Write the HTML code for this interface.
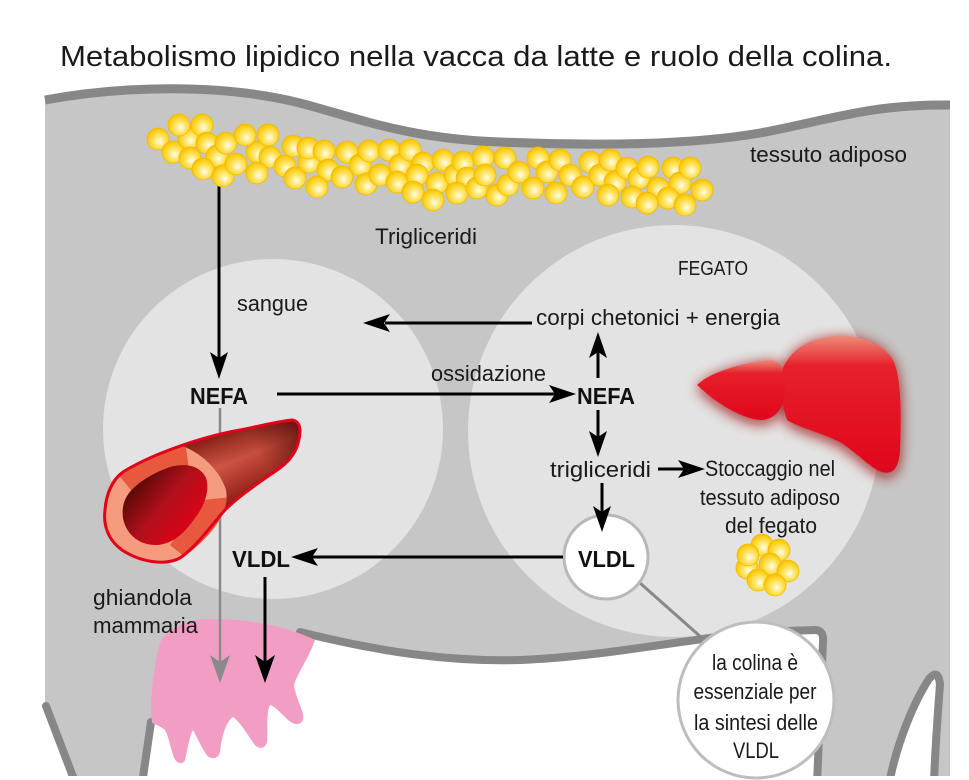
<!DOCTYPE html>
<html><head><meta charset="utf-8"><style>
html,body{margin:0;padding:0;background:#fff;}
svg{display:block;}
text{font-family:"Liberation Sans",sans-serif;fill:#1a1a1a;}
.b{font-weight:bold;fill:#111;}
</style></head><body>
<svg width="969" height="780" viewBox="0 0 969 780" xmlns="http://www.w3.org/2000/svg">
<defs>
<radialGradient id="gl" cx="0.55" cy="0.58" r="0.6" fx="0.58" fy="0.62">
<stop offset="0" stop-color="#fffdf2"/><stop offset="0.3" stop-color="#ffec8a"/><stop offset="0.75" stop-color="#ffd21e"/><stop offset="1" stop-color="#f4bd00"/>
</radialGradient>
<linearGradient id="vb" gradientUnits="userSpaceOnUse" x1="245" y1="418" x2="275" y2="492">
<stop offset="0" stop-color="#7e1a12"/><stop offset="0.45" stop-color="#d65a48"/><stop offset="1" stop-color="#8a1410"/>
</linearGradient>
<linearGradient id="vend" gradientUnits="userSpaceOnUse" x1="200" y1="490" x2="300" y2="430">
<stop offset="0" stop-color="#5a0a05" stop-opacity="0"/><stop offset="0.6" stop-color="#5a0a05" stop-opacity="0.15"/><stop offset="1" stop-color="#4a0804" stop-opacity="0.75"/>
</linearGradient>
<linearGradient id="lum" gradientUnits="userSpaceOnUse" x1="132" y1="478" x2="195" y2="530">
<stop offset="0" stop-color="#4a0804"/><stop offset="0.5" stop-color="#b0101a"/><stop offset="1" stop-color="#e30018"/>
</linearGradient>
<linearGradient id="lv" x1="0" y1="0" x2="0" y2="1">
<stop offset="0" stop-color="#f08a78"/><stop offset="0.22" stop-color="#e6202a"/><stop offset="1" stop-color="#e0061b"/>
</linearGradient>
<filter id="blur" x="-30%" y="-30%" width="160%" height="160%"><feGaussianBlur stdDeviation="7"/></filter>
<clipPath id="ringclip"><path d="M182,446 C200,452 220,470 226,490 C230,510 215,532 190,552 C175,560 160,565 145,562 C130,558 112,548 106,530 C102,515 104,495 110,484 C115,475 125,468 140,462 C155,455 170,449 182,446 Z"/></clipPath>
</defs>

<!-- title -->
<text x="60" y="66" font-size="29" textLength="832" lengthAdjust="spacingAndGlyphs">Metabolismo lipidico nella vacca da latte e ruolo della colina.</text>

<!-- cow body -->
<path d="M45,100 C120,86 220,83 300,103 C360,119 410,139 500,142 C600,146 690,145 760,133 C830,120 870,104 950,105 L950,776 L45,776 Z" fill="#c6c6c6"/>
<path d="M45,100 C120,86 220,83 300,103 C360,119 410,139 500,142 C600,146 690,145 760,133 C830,120 870,104 950,105" fill="none" stroke="#878787" stroke-width="9"/>

<!-- circles -->
<circle cx="273" cy="429" r="170" fill="#e3e3e3"/>
<circle cx="674" cy="431" r="206" fill="#e3e3e3"/>

<!-- bottom white areas -->
<path d="M0,712 L46,708 L74,780 L0,780 Z" fill="#fff"/>
<path d="M46,706 L75,782" stroke="#878787" stroke-width="8" fill="none" stroke-linecap="round"/>
<path d="M147,780 L152,720 L165,700 L300,634 C380,652 450,662 520,660 C600,657 680,640 760,632 L822,630 L818,780 Z" fill="#fff"/>
<path d="M142,784 L151,722" stroke="#878787" stroke-width="8" fill="none" stroke-linecap="round"/>
<path d="M300,632 C380,652 450,662 520,660 C600,657 680,640 760,632 L815,630 Q824,630 823,642 L817,784" stroke="#878787" stroke-width="8" fill="none" stroke-linecap="round" stroke-linejoin="round"/>
<path d="M889,784 C897,742 914,702 929,679 Q938,668 940,684 C938,712 935,748 934,784 Z" fill="#fff" stroke="#878787" stroke-width="8" stroke-linejoin="round"/>
<rect x="0" y="776" width="969" height="4" fill="#fff"/>
<rect x="951" y="0" width="18" height="780" fill="#fff"/>

<!-- udder -->
<path d="M162,638 C175,625 190,619 210,619 C245,619 285,625 315,640 C308,660 298,672 294,685 C296,700 305,712 303,720 C300,727 292,724 287,719 C280,712 273,705 270,705 C266,712 268,730 267,742 C265,750 258,749 254,744 C248,735 240,722 233,717 C226,722 222,735 220,752 C218,760 210,760 206,754 C200,745 196,735 193,730 C189,737 188,748 185,760 C182,766 175,763 173,755 C170,745 168,735 165,730 C160,726 155,724 152,723 C150,705 152,680 157,655 Q159,645 162,638 Z" fill="#f29ec4"/>

<!-- vertical arrow from adipose to NEFA -->
<line x1="219" y1="165" x2="219" y2="360" stroke="#000" stroke-width="3"/>
<polygon points="219,379 210,352 219,358 228,352" fill="#000"/>

<!-- fat globules -->
<g fill="url(#gl)" stroke="#efbb00" stroke-width="0.8">
<circle cx="158" cy="139" r="11"/><circle cx="173" cy="152" r="11"/><circle cx="189" cy="138" r="11"/><circle cx="179" cy="125" r="11"/><circle cx="202" cy="125" r="11"/>
<circle cx="190" cy="158" r="11"/><circle cx="207" cy="143" r="11"/><circle cx="217" cy="156" r="11"/><circle cx="203" cy="169" r="11"/><circle cx="223" cy="176" r="11"/>
<circle cx="226" cy="143" r="11"/><circle cx="236" cy="164" r="11"/><circle cx="257" cy="152" r="11"/><circle cx="245" cy="135" r="11"/><circle cx="268" cy="135" r="11"/>
<circle cx="270" cy="157" r="11"/><circle cx="257" cy="173" r="11"/><circle cx="285" cy="166" r="11"/><circle cx="295" cy="178" r="11"/><circle cx="293" cy="146" r="11"/>
<circle cx="309" cy="162" r="11"/><circle cx="308" cy="148" r="11"/><circle cx="324" cy="151" r="11"/><circle cx="328" cy="170" r="11"/><circle cx="317" cy="187" r="11"/>
<circle cx="342" cy="177" r="11"/><circle cx="347" cy="152" r="11"/><circle cx="360" cy="165" r="11"/><circle cx="369" cy="151" r="11"/><circle cx="366" cy="184" r="11"/>
<circle cx="380" cy="175" r="11"/><circle cx="389" cy="150" r="11"/><circle cx="400" cy="165" r="11"/><circle cx="410" cy="150" r="11"/><circle cx="397" cy="182" r="11"/>
<circle cx="423" cy="163" r="11"/><circle cx="417" cy="175" r="11"/><circle cx="413" cy="192" r="11"/><circle cx="443" cy="160" r="11"/><circle cx="437" cy="183" r="11"/>
<circle cx="433" cy="200" r="11"/><circle cx="455" cy="175" r="11"/><circle cx="463" cy="162" r="11"/><circle cx="467" cy="178" r="11"/><circle cx="457" cy="193" r="11"/>
<circle cx="477" cy="188" r="11"/><circle cx="483" cy="157" r="11"/><circle cx="485" cy="175" r="11"/><circle cx="497" cy="195" r="11"/><circle cx="505" cy="158" r="11"/>
<circle cx="508" cy="185" r="11"/><circle cx="519" cy="172" r="11"/><circle cx="538" cy="158" r="11"/><circle cx="547" cy="172" r="11"/><circle cx="533" cy="188" r="11"/>
<circle cx="560" cy="160" r="11"/><circle cx="570" cy="175" r="11"/><circle cx="556" cy="193" r="11"/><circle cx="583" cy="187" r="11"/><circle cx="590" cy="162" r="11"/>
<circle cx="600" cy="175" r="11"/><circle cx="610" cy="160" r="11"/><circle cx="615" cy="182" r="11"/><circle cx="608" cy="195" r="11"/><circle cx="627" cy="168" r="11"/>
<circle cx="639" cy="178" r="11"/><circle cx="632" cy="197" r="11"/><circle cx="648" cy="167" r="11"/><circle cx="658" cy="188" r="11"/><circle cx="647" cy="203" r="11"/>
<circle cx="673" cy="168" r="11"/><circle cx="680" cy="183" r="11"/><circle cx="668" cy="198" r="11"/><circle cx="690" cy="168" r="11"/><circle cx="702" cy="190" r="11"/>
<circle cx="685" cy="205" r="11"/>
</g>

<!-- small cluster -->
<g fill="url(#gl)" stroke="#efbb00" stroke-width="0.8">
<circle cx="747" cy="568" r="11"/><circle cx="762" cy="545" r="11"/><circle cx="748" cy="555" r="11"/><circle cx="779" cy="550" r="11"/>
<circle cx="770" cy="564" r="11"/><circle cx="788" cy="571" r="11"/><circle cx="758" cy="580" r="11"/><circle cx="775" cy="585" r="11"/>
</g>

<!-- liver -->
<g filter="url(#blur)" opacity="0.85">
<path d="M697,388 C710,374 745,364 772,362 C782,364 786,377 785,394 C784,410 775,424 760,424 C740,422 715,406 697,388 Z" fill="#9a0a0a"/>
<path d="M783,370 C790,354 805,342 830,339 C855,336 880,342 893,362 C902,380 901,422 900,452 C899,472 893,480 882,476 C870,472 860,459 840,446 C820,436 800,432 787,424 C782,409 780,389 783,370 Z" fill="#9a0a0a"/>
</g>
<path d="M783,368 C790,352 805,340 830,337 C855,334 880,340 893,360 C902,378 901,420 900,450 C899,468 893,475 882,472 C870,468 860,455 840,442 C820,432 800,428 787,420 C782,405 780,385 783,368 Z" fill="url(#lv)"/>
<path d="M697,385 C710,372 745,362 772,360 C782,362 786,375 785,392 C784,408 775,420 760,420 C740,418 715,402 697,385 Z" fill="url(#lv)"/>

<!-- horizontal arrows / lines -->
<line x1="532" y1="323" x2="385" y2="323" stroke="#000" stroke-width="3"/>
<polygon points="363,323 390,314 384,323 390,332" fill="#000"/>
<line x1="277" y1="394" x2="556" y2="394" stroke="#000" stroke-width="3"/>
<polygon points="576,394 549,385 555,394 549,403" fill="#000"/>
<line x1="598" y1="378" x2="598" y2="352" stroke="#000" stroke-width="3"/>
<polygon points="598,332 589,358 598,352 607,358" fill="#000"/>
<line x1="598" y1="410" x2="598" y2="438" stroke="#000" stroke-width="3"/>
<polygon points="598,457 589,431 598,437 607,431" fill="#000"/>
<line x1="658" y1="469" x2="685" y2="469" stroke="#000" stroke-width="3"/>
<polygon points="705,469 678,460 684,469 678,478" fill="#000"/>

<!-- gray line NEFA -> mammary -->
<line x1="220" y1="408" x2="220" y2="662" stroke="#8a8a8a" stroke-width="2.5"/>
<polygon points="220,683 210,655 220,662 230,655" fill="#8a8a8a"/>

<!-- blood vessel -->
<path d="M123,472 C150,455 200,437 240,430 C260,426 280,421 292,420 Q300,421 300,432 C299,445 295,457 280,468 C260,482 240,495 225,510 C210,527 195,548 180,558 C165,566 140,562 122,550 C108,540 103,525 105,510 C106,495 112,480 123,472 Z" fill="url(#vb)"/>
<path d="M123,472 C150,455 200,437 240,430 C260,426 280,421 292,420 Q300,421 300,432 C299,445 295,457 280,468 C260,482 240,495 225,510 C210,527 195,548 180,558 C165,566 140,562 122,550 C108,540 103,525 105,510 C106,495 112,480 123,472 Z" fill="url(#vend)"/>
<path d="M182,446 C200,452 220,470 226,490 C230,510 215,532 190,552 C175,560 160,565 145,562 C130,558 112,548 106,530 C102,515 104,495 110,484 C115,475 125,468 140,462 C155,455 170,449 182,446 Z" fill="#f59b7e"/>
<g clip-path="url(#ringclip)" fill="#e8583c">
<polygon points="108,462 135,495 189,470 184,432"/>
<polygon points="203,500 242,496 196,566 170,545"/>
</g>
<path d="M125,500 C130,487 150,474 170,467 C185,463 200,465 206,478 C210,490 205,505 195,518 C185,532 175,543 158,545 C140,546 126,535 123,518 C122,510 123,505 125,500 Z" fill="url(#lum)"/>
<path d="M123,472 C150,455 200,437 240,430 C260,426 280,421 292,420 Q300,421 300,432 C299,445 295,457 280,468 C260,482 240,495 225,510 C210,527 195,548 180,558 C165,566 140,562 122,550 C108,540 103,525 105,510 C106,495 112,480 123,472 Z" fill="none" stroke="#e2001a" stroke-width="3"/>

<!-- VLDL circle & arrows -->
<line x1="640" y1="583" x2="702" y2="638" stroke="#888" stroke-width="3"/>
<circle cx="606" cy="557" r="42" fill="#fff" stroke="#b8b8b8" stroke-width="3"/>
<line x1="602" y1="483" x2="602" y2="513" stroke="#000" stroke-width="3"/>
<polygon points="602,532 593,506 602,512 611,506" fill="#000"/>
<line x1="563" y1="557" x2="312" y2="557" stroke="#000" stroke-width="3"/>
<polygon points="291,557 318,548 312,557 318,566" fill="#000"/>
<line x1="265" y1="577" x2="265" y2="662" stroke="#000" stroke-width="3"/>
<polygon points="265,683 255,655 265,662 275,655" fill="#000"/>

<!-- callout -->
<circle cx="756" cy="700" r="78" fill="#fff" stroke="#bdbdbd" stroke-width="3"/>

<!-- labels -->
<text x="750" y="162" font-size="22" textLength="157" lengthAdjust="spacingAndGlyphs">tessuto adiposo</text>
<text x="375" y="244" font-size="22" textLength="102" lengthAdjust="spacingAndGlyphs">Trigliceridi</text>
<text x="678" y="275" font-size="20" textLength="70" lengthAdjust="spacingAndGlyphs">FEGATO</text>
<text x="237" y="311" font-size="22" textLength="71" lengthAdjust="spacingAndGlyphs">sangue</text>
<text x="536" y="325" font-size="22" textLength="244" lengthAdjust="spacingAndGlyphs">corpi chetonici + energia</text>
<text x="431" y="381" font-size="22" textLength="115" lengthAdjust="spacingAndGlyphs">ossidazione</text>
<text class="b" x="190" y="404" font-size="23" textLength="58" lengthAdjust="spacingAndGlyphs">NEFA</text>
<text class="b" x="577" y="404" font-size="23" textLength="58" lengthAdjust="spacingAndGlyphs">NEFA</text>
<text x="550" y="477" font-size="22" textLength="101" lengthAdjust="spacingAndGlyphs">trigliceridi</text>
<text x="705" y="476" font-size="22" textLength="130" lengthAdjust="spacingAndGlyphs">Stoccaggio nel</text>
<text x="700" y="505" font-size="22" textLength="140" lengthAdjust="spacingAndGlyphs">tessuto adiposo</text>
<text x="725" y="533" font-size="22" textLength="92" lengthAdjust="spacingAndGlyphs">del fegato</text>
<text class="b" x="578" y="567" font-size="23" textLength="57" lengthAdjust="spacingAndGlyphs">VLDL</text>
<text class="b" x="232" y="567" font-size="23" textLength="58" lengthAdjust="spacingAndGlyphs">VLDL</text>
<text x="93" y="605" font-size="22" textLength="99" lengthAdjust="spacingAndGlyphs">ghiandola</text>
<text x="93" y="633" font-size="22" textLength="105" lengthAdjust="spacingAndGlyphs">mammaria</text>
<text x="755" y="670" font-size="22" text-anchor="middle" textLength="86" lengthAdjust="spacingAndGlyphs">la colina è</text>
<text x="755" y="699" font-size="22" text-anchor="middle" textLength="123" lengthAdjust="spacingAndGlyphs">essenziale per</text>
<text x="756" y="730" font-size="22" text-anchor="middle" textLength="124" lengthAdjust="spacingAndGlyphs">la sintesi delle</text>
<text x="756" y="758" font-size="22" text-anchor="middle" textLength="46" lengthAdjust="spacingAndGlyphs">VLDL</text>
</svg>
</body></html>
